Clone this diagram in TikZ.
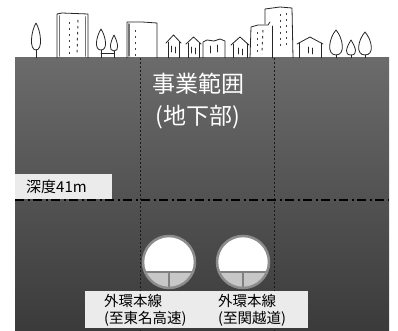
\documentclass[tikz,border=0pt]{standalone}
\usepackage{fontspec}
\setmainfont{Noto Sans CJK JP}
\begin{document}
\begin{tikzpicture}[x=1pt,y=-1pt,
  pencil/.style={line width=0.8pt, draw=black!85, line cap=round, line join=round},
  shadewall/.style={line width=1.8pt, draw=black!55, line cap=round},
  win/.style={line width=1pt, draw=black!75, dash pattern=on 2.5pt off 3.5pt},
  guide/.style={line width=0.8pt, draw=black!90, dash pattern=on 2pt off 2pt},
  depthline/.style={line width=1.2pt, draw=black, dash pattern=on 9pt off 3.5pt on 2pt off 3.5pt},
  labelbox/.style={fill=black!8, draw=none},
  ring/.style={draw=black!45, line width=2.5pt},
  bigtext/.style={text=white, align=center, font=\fontsize{23}{32}\selectfont},
  smalltext/.style={text=black, align=left, font=\fontsize{14.5}{17}\selectfont, inner sep=0pt}
]
\useasboundingbox (0,0) rectangle (398,331);
\fill[white] (0,0) rectangle (398,331);

% ground section
\shade[top color=black!58, bottom color=black!77] (15,58) rectangle (389,331);

% range of the project (vertical guides)
\coordinate (gAtop) at (140,58);
\coordinate (gAbot) at (140,331);
\coordinate (gBtop) at (274,58);
\coordinate (gBbot) at (274,331);
\draw[guide] (gAtop) -- (gAbot);
\draw[guide] (gBtop) -- (gBbot);

% depth line
\coordinate (dL) at (15,200);
\coordinate (dR) at (389,200);
\draw[depthline] (dL) -- (dR);

% depth label
\node[labelbox, anchor=north west, minimum width=97pt, minimum height=25pt, inner sep=0pt] (depthbox) at (15,174) {};
\node[anchor=west, inner sep=0pt, font=\fontsize{15}{17}\selectfont] (depth) at (26,187) {深度41m};

% main caption
\node[bigtext] (zone) at (198,101) {事業範囲\\(地下部)};

% tunnels
\foreach \cx/\nm in {169/tw, 243/te}{
  \coordinate (\nm) at (\cx,262);
  \fill[white] (\nm) circle (26pt);
  \begin{scope}
    \clip (\nm) circle (26pt);
    \fill[black!22] (\cx-30,272) rectangle (\cx+30,292);
    \draw[black!50, line width=1.6pt] (\cx-30,272) -- (\cx+30,272);
    \draw[black!50, line width=1.6pt] (\cx,272) -- (\cx,292);
  \end{scope}
  \draw[ring] (\nm) circle (26pt);
}

% route labels
\fill[labelbox] (85,291) rectangle (308,328);
\node[smalltext, anchor=west] (routeW) at (104,310) {外環本線\\(至東名高速)};
\node[smalltext, anchor=west] (routeE) at (218,310) {外環本線\\(至関越道)};

% skyline sketch: trees
\foreach \cx/\t/\b/\hw in {36/23/50/5, 101/29/50/5, 114/35/51/4, 336/30/55/7, 351/40/55/5, 365/32/55/7}{
  \draw[pencil] (\cx,\b) .. controls ({\cx-1.4*\hw},\b) and ({\cx-\hw},\t+8) .. (\cx,\t)
                        .. controls ({\cx+\hw},\t+8) and ({\cx+1.4*\hw},\b) .. (\cx,\b);
  \draw[pencil] (\cx,\b) -- (\cx,58);
}
\draw[pencil] (101,53) -- (114,53);

% building A
\draw[pencil] (57,58) -- (57,14) -- (62,13) -- (88,14) -- (88,58);
\draw[shadewall] (59.5,16) -- (59.5,56);
\draw[shadewall] (85.5,17) -- (85.5,56);
\draw[win] (69,22) -- (69,56);
\draw[win] (78,20) -- (77,55);

% building B
\draw[pencil] (127,58) -- (127,22) -- (142,22) -- (157,23) -- (157,58);
\draw[shadewall] (129,24) -- (129,56);
\draw[win] (135,30) -- (135,56);

% houses
\foreach \l/\r/\p/\e in {166/181/35/43, 186/201/37/44, 231/249/37/45, 297/323/37/44}{
  \draw[pencil] (\l,\e) -- ({(\l+\r)/2},\p) -- (\r,\e);
  \draw[pencil] (\l+2,\e-1) -- (\l+2,58);
  \draw[pencil] (\r-2,\e-1) -- (\r-2,58);
  \draw[pencil] ({(\l+\r)/2-2},\e+3) -- ({(\l+\r)/2-2},\e+9);
  \draw[pencil] ({(\l+\r)/2+2},\e+4) -- ({(\l+\r)/2+2},\e+10);
}
\draw[pencil] (203,58) -- (203,42) -- (207,40) -- (214,41) -- (220,39) -- (225,41) -- (225,58);
\draw[pencil] (210,46) -- (210,53);
\draw[pencil] (217,45) -- (217,52);

% building C
\draw[pencil] (250,58) -- (251,27) -- (258,25) -- (268,25) -- (270,22);
\draw[pencil] (265,24) -- (265,9) -- (280,7) -- (292,8) -- (293,58);
\draw[pencil] (272,26) -- (272,58);
\draw[win] (257,32) -- (257,55);
\draw[win] (263,30) -- (262,54);
\draw[win] (280,14) -- (280,50);
\draw[win] (286,13) -- (286,48);
\end{tikzpicture}
\end{document}
